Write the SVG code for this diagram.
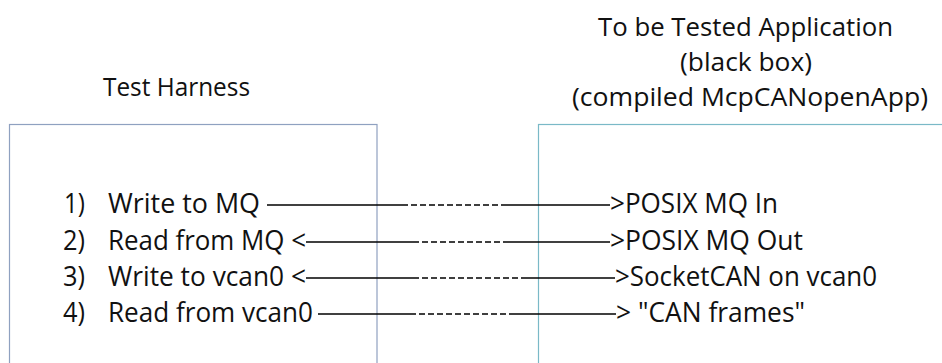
<svg xmlns="http://www.w3.org/2000/svg" width="942" height="363" viewBox="0 0 942 363">
  <style>
    text { font-family: "Open Sans", "Liberation Sans", sans-serif; font-size: 27px; fill: #111; }
    .title { font-size: 26px; }
    .mid { text-anchor: middle; }
    .harness { fill: none; stroke: #8FA1C0; stroke-width: 1.2; }
    .app { fill: none; stroke: #7AB9C7; stroke-width: 1.2; }
    .wire { stroke: #000; stroke-width: 1.4; fill: none; }
    .dash { stroke-dasharray: 6 3; }
  </style>

  <!-- test harness box -->
  <g id="test-harness">
    <text class="title" x="103" y="96" textLength="147" lengthAdjust="spacingAndGlyphs">Test Harness</text>
    <rect class="harness" x="9.5" y="124.5" width="367.5" height="260"/>
    <text x="64" y="213" textLength="21" lengthAdjust="spacingAndGlyphs">1)</text>
    <text x="108" y="213" textLength="152" lengthAdjust="spacingAndGlyphs">Write to MQ</text>
    <text x="63" y="250" textLength="22" lengthAdjust="spacingAndGlyphs">2)</text>
    <text x="108" y="250" textLength="198" lengthAdjust="spacingAndGlyphs">Read from MQ &lt;</text>
    <text x="63" y="286" textLength="22" lengthAdjust="spacingAndGlyphs">3)</text>
    <text x="108" y="286" textLength="198" lengthAdjust="spacingAndGlyphs">Write to vcan0 &lt;</text>
    <text x="63" y="322" textLength="22" lengthAdjust="spacingAndGlyphs">4)</text>
    <text x="108" y="322" textLength="205" lengthAdjust="spacingAndGlyphs">Read from vcan0</text>
  </g>

  <!-- application under test -->
  <g id="application">
    <text class="title" x="598" y="36" textLength="295" lengthAdjust="spacingAndGlyphs">To be Tested Application</text>
    <text class="title" x="680" y="71" textLength="132" lengthAdjust="spacingAndGlyphs">(black box)</text>
    <text class="title" x="572" y="106" textLength="356" lengthAdjust="spacingAndGlyphs">(compiled McpCANopenApp)</text>
    <rect class="app" x="538.5" y="124.5" width="420" height="260"/>
    <text x="610" y="213" textLength="168" lengthAdjust="spacingAndGlyphs">&gt;POSIX MQ In</text>
    <text x="610" y="250" textLength="193" lengthAdjust="spacingAndGlyphs">&gt;POSIX MQ Out</text>
    <text x="615" y="286" textLength="262" lengthAdjust="spacingAndGlyphs">&gt;SocketCAN on vcan0</text>
    <text x="616" y="322" textLength="189" lengthAdjust="spacingAndGlyphs">&gt; "CAN frames"</text>
  </g>

  <!-- links: solid, dashed middle, solid -->
  <g id="connectors">
    <g id="link-mq-in">
      <line class="wire" x1="267" y1="205" x2="402" y2="205"/>
      <line class="wire dash" x1="402" y1="205" x2="503" y2="205"/>
      <line class="wire" x1="503" y1="205" x2="610" y2="205"/>
    </g>
    <g id="link-mq-out">
      <line class="wire" x1="306" y1="242" x2="413" y2="242"/>
      <line class="wire dash" x1="413" y1="242" x2="505" y2="242"/>
      <line class="wire" x1="505" y1="242" x2="610" y2="242"/>
    </g>
    <g id="link-socketcan">
      <line class="wire" x1="306" y1="278" x2="413" y2="278"/>
      <line class="wire dash" x1="413" y1="278" x2="523" y2="278"/>
      <line class="wire" x1="523" y1="278" x2="615" y2="278"/>
    </g>
    <g id="link-can-frames">
      <line class="wire" x1="318" y1="314" x2="410" y2="314"/>
      <line class="wire dash" x1="410" y1="314" x2="510" y2="314"/>
      <line class="wire" x1="510" y1="314" x2="616" y2="314"/>
    </g>
  </g>
</svg>
